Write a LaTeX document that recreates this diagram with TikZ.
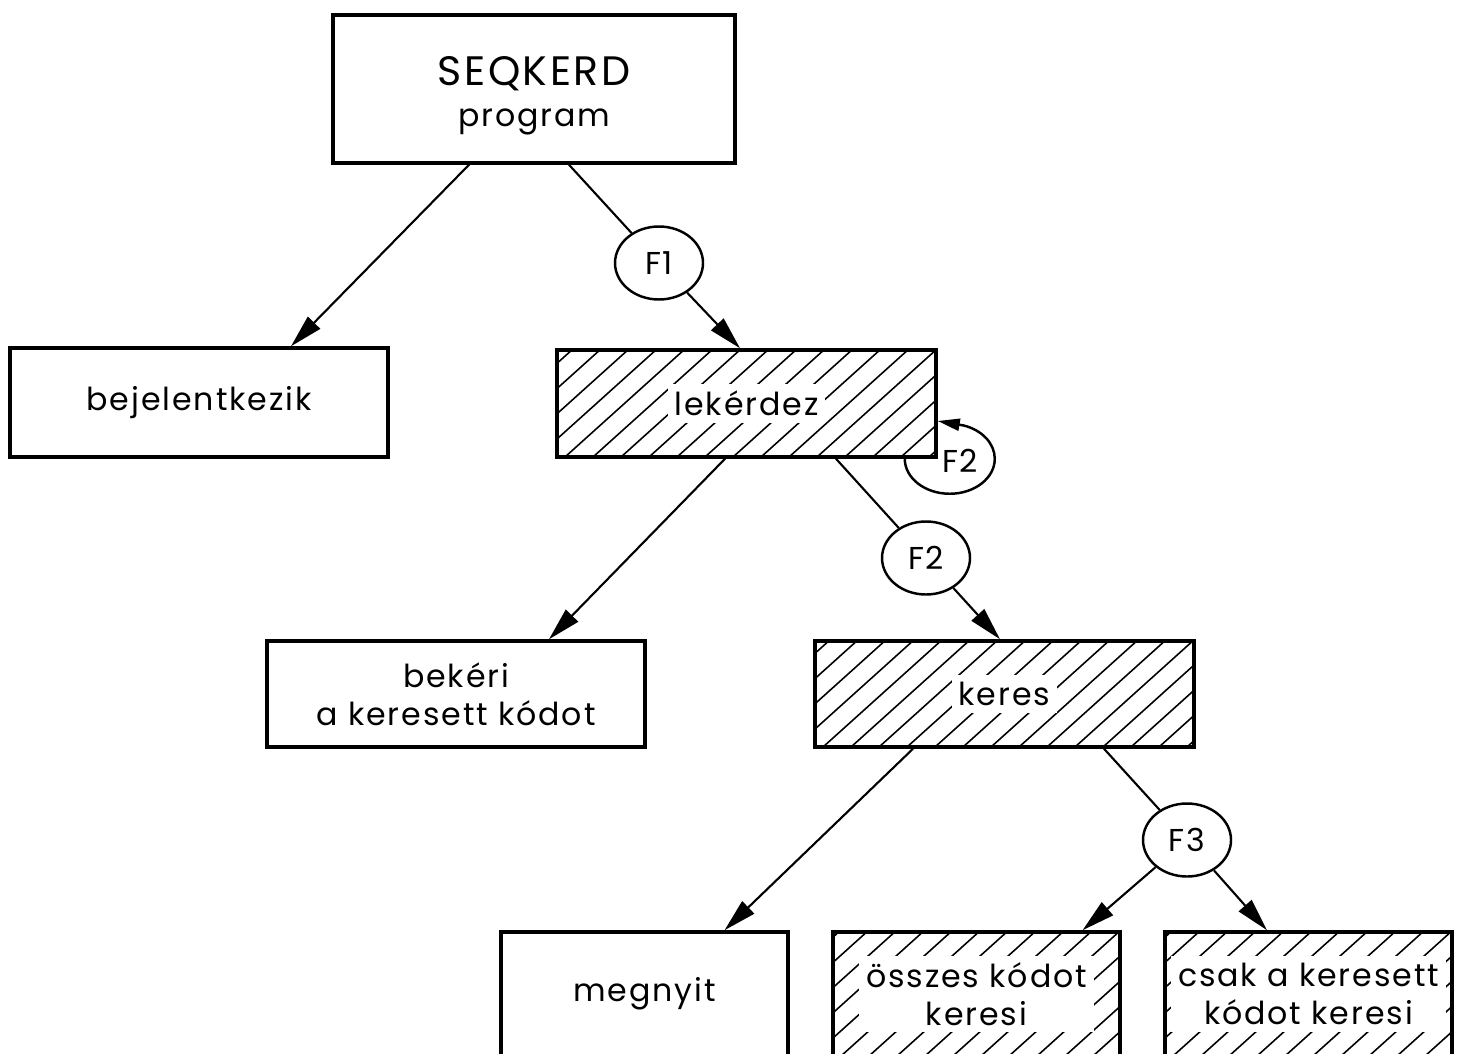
\documentclass[tikz,border=0pt]{standalone}
\usepackage{fontspec}
\setmainfont{Poppins}[LetterSpace=6]
\usetikzlibrary{arrows.meta, shapes.geometric}
\tikzset{
  every picture/.style={line width=0.6pt},
  box/.style={draw, line width=1pt, align=center, inner sep=0pt, font=\fontsize{9}{10.7}\selectfont},
  hatched/.style={path picture={
    \foreach \k in {-1.6,-1.32,...,4.1}
      \draw[line width=0.45pt] ([xshift=\k cm]path picture bounding box.south west) -- ++(42:2.1);
  }},
  txt/.style={fill=white, inner sep=2pt, align=center, font=\fontsize{9}{10.7}\selectfont},
  fn/.style={ellipse, draw, line width=0.7pt, minimum width=0.88cm, minimum height=0.73cm, inner sep=0pt, font=\fontsize{9}{10.7}\selectfont},
  arrow/.style={-{Triangle[length=3.3mm, width=1.7mm]}},
  smallarrow/.style={-{Triangle[length=2.2mm, width=1.2mm]}},
}
\begin{document}
\begin{tikzpicture}
  \clip (0,0) rectangle (14.62,10.53);
  % boxes
  \node[box, minimum width=4.02cm, minimum height=1.48cm] (prog) at (5.34,9.64) {\rule{0pt}{12pt}{\fontsize{11.7}{12}\selectfont SEQKERD}\\[1pt]program};
  \node[box, minimum width=3.78cm, minimum height=1.09cm] (bejel) at (1.99,6.505) {bejelentkezik};
  \node[box, hatched, minimum width=3.79cm, minimum height=1.07cm] (lek) at (7.465,6.495) {};
  \node[txt] (lek-t) at (lek) {lekérdez};
  \node[box, minimum width=3.78cm, minimum height=1.06cm] (bek) at (4.56,3.59) {bekéri\\a keresett kódot};
  \node[box, hatched, minimum width=3.79cm, minimum height=1.06cm] (keres) at (10.045,3.59) {};
  \node[txt] (keres-t) at (keres) {keres};
  \node[box, minimum width=2.87cm, minimum height=1.24cm] (megn) at (6.445,0.59) {megnyit};
  \node[box, hatched, minimum width=2.87cm, minimum height=1.24cm] (osszes) at (9.765,0.59) {};
  \node[txt] (osszes-t) at (osszes) {összes kódot\\keresi};
  \node[box, hatched, minimum width=2.87cm, minimum height=1.24cm] (csak) at (13.085,0.59) {};
  \node[txt] (csak-t) at (csak) {csak a keresett\\kódot keresi};
  % circles
  \node[fn] (f1) at (6.59,7.90) {F1};
  \node[fn] (f2) at (9.26,4.95) {F2};
  \node[fn] (f3) at (11.87,2.13) {F3};
  \node[txt, fill=none] (f2-loop) at (9.60,5.92) {F2};
  % connectors
  \draw[arrow] ([xshift=-0.65cm]prog.south) -- ([xshift=0.92cm]bejel.north);
  \draw ([xshift=0.35cm]prog.south) -- (f1);
  \draw[arrow] (f1) -- ([xshift=-0.065cm]lek.north);
  \draw[arrow] ([xshift=-0.215cm]lek.south) -- ([xshift=0.93cm]bek.north);
  \draw ([xshift=0.895cm]lek.south) -- (f2);
  \draw[arrow] (f2) -- ([xshift=-0.045cm]keres.north);
  \draw[smallarrow, line width=0.7pt] ([xshift=-0.33cm]lek.south east) arc[start angle=180, end angle=432, x radius=0.45cm, y radius=0.35cm] -- ([yshift=-0.175cm]lek.east);
  \draw[arrow] ([xshift=-0.915cm]keres.south) -- ([xshift=0.8cm]megn.north);
  \draw ([xshift=0.995cm]keres.south) -- (f3);
  \draw[arrow] (f3) -- ([xshift=1.06cm]osszes.north);
  \draw[arrow] (f3) -- ([xshift=-0.415cm]csak.north);
\end{tikzpicture}
\end{document}
